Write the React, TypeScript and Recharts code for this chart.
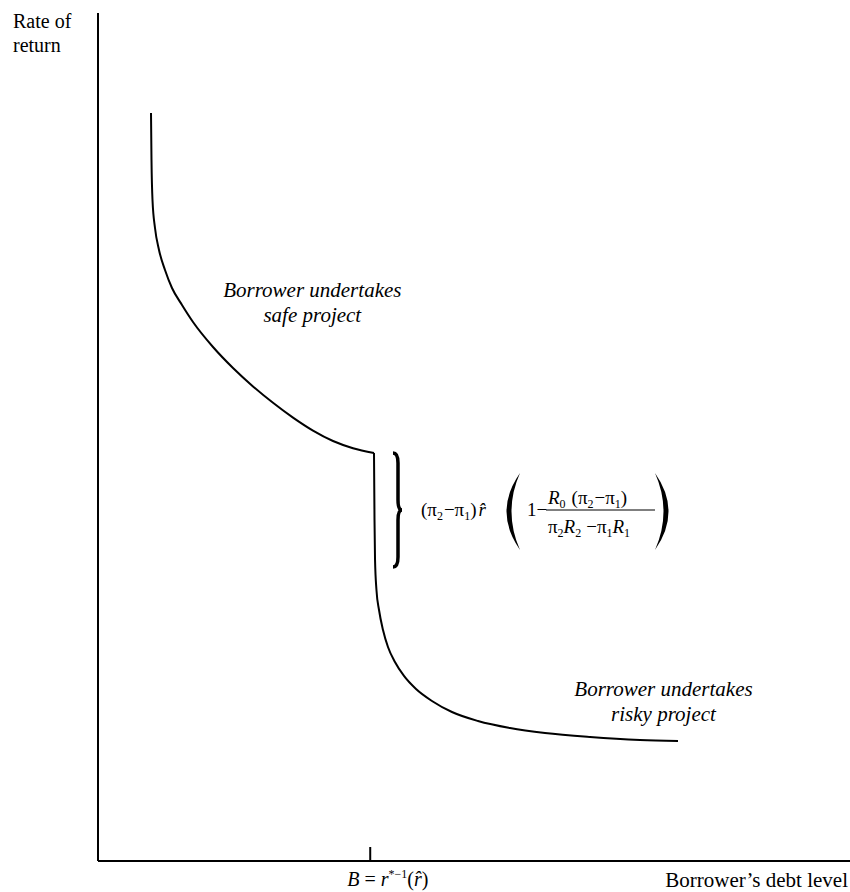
import React from 'react';
import { LineChart, Line, XAxis, YAxis, ReferenceLine, ReferenceDot } from 'recharts';

// debt level / rate of return, both on a 0-100 scale
const safeDebt = [7.048, 7.114, 7.247, 7.58, 8.112, 8.91, 9.84, 11.17, 12.633, 15.293, 17.952, 20.612, 23.271, 25.931, 28.59, 31.25, 33.91, 36.702];
const safeRate = [88.208, 82.665, 77.948, 74.646, 72.052, 69.693, 67.571, 65.566, 63.561, 60.613, 58.137, 55.967, 54.033, 52.288, 50.755, 49.528, 48.679, 48.113];

const riskyDebt = [36.702, 36.77, 36.84, 37.03, 37.37, 37.9, 38.56, 39.49, 40.69, 42.29, 44.41, 47.07, 50.53, 54.79, 59.44, 65.43, 72.07, 77.13];
const riskyRate = [48.113, 40.21, 35.5, 31.96, 29.6, 27.24, 25.24, 23.47, 21.82, 20.28, 18.87, 17.57, 16.51, 15.68, 15.09, 14.62, 14.27, 14.15];

const breakDebt = 36.2;
const tickLen = 1.65;

const safeData = safeDebt.map((x, i) => ({ x, y: safeRate[i] }));
const riskyData = riskyDebt.map((x, i) => ({ x, y: riskyRate[i] }));

const FONT = '"Liberation Serif", "Times New Roman", serif';

const Formula = ({ cx, cy }: { cx?: number; cy?: number }) => {
  const x = cx ?? 0;
  const y = cy ?? 0;
  const bx = x + 19;
  const top = y;
  const bot = y + 114;
  const mid = y + 57;
  const a = 5;
  const c = 10;
  const brace = `M${bx},${top} Q${bx + a},${top} ${bx + a},${top + c} L${bx + a},${mid - c} Q${bx + a},${mid} ${bx + 9},${mid} Q${bx + a},${mid} ${bx + a},${mid + c} L${bx + a},${bot - c} Q${bx + a},${bot} ${bx},${bot}`;
  const lp = x + 146;
  const rp = x + 281;
  const pt = y + 20;
  const pb = y + 97;
  const pm = (pt + pb) / 2;
  const sub = { fontSize: 12 };
  return (
    <g fontFamily={FONT} fill="#000">
      <path d={brace} fill="none" stroke="#000" strokeWidth={3.5} />
      <text x={x + 47} y={y + 63} fontSize={19}>
        (π<tspan dy={4} {...sub}>2</tspan><tspan dy={-4} dx={1}>−π</tspan><tspan dy={4} {...sub}>1</tspan><tspan dy={-4}>)</tspan>
        <tspan dx={2} fontStyle="italic">{'r\u0302'}</tspan>
      </text>
      <path d={`M${lp},${pt} Q${lp - 27},${pm} ${lp},${pb} Q${lp - 17},${pm} ${lp},${pt} Z`} />
      <text x={x + 153} y={y + 63} fontSize={19}>1−</text>
      <line x1={x + 172} x2={x + 281} y1={y + 57} y2={y + 57} stroke="#000" strokeWidth={1.2} />
      <text x={x + 174} y={y + 51} fontSize={19}>
        <tspan fontStyle="italic">R</tspan><tspan dy={4} {...sub}>0</tspan>
        <tspan dy={-4} dx={6}>(π</tspan><tspan dy={4} {...sub}>2</tspan><tspan dy={-4} dx={1}>−π</tspan><tspan dy={4} {...sub}>1</tspan><tspan dy={-4}>)</tspan>
      </text>
      <text x={x + 174} y={y + 80} fontSize={19}>
        π<tspan dy={4} {...sub}>2</tspan><tspan dy={-4} fontStyle="italic">R</tspan><tspan dy={4} {...sub}>2</tspan>
        <tspan dy={-4} dx={5}>−π</tspan><tspan dy={4} {...sub}>1</tspan><tspan dy={-4} fontStyle="italic">R</tspan><tspan dy={4} {...sub}>1</tspan>
      </text>
      <path d={`M${rp},${pt} Q${rp + 27},${pm} ${rp},${pb} Q${rp + 17},${pm} ${rp},${pt} Z`} />
    </g>
  );
};

const TwoLines = ({ cx, cy, lines }: { cx?: number; cy?: number; lines: string[] }) => (
  <text x={cx} y={cy} fontFamily={FONT} fontSize={21} fontStyle="italic" textAnchor="middle" fill="#000">
    {lines.map((t, i) => (
      <tspan key={t} x={cx} dy={i === 0 ? 0 : 25}>{t}</tspan>
    ))}
  </text>
);

const BreakLabel = ({ cx, cy }: { cx?: number; cy?: number }) => (
  <text x={(cx ?? 0) - 23} y={(cy ?? 0) + 25} fontFamily={FONT} fontSize={20} fill="#000">
    <tspan fontStyle="italic">B</tspan> = <tspan fontStyle="italic">r</tspan>
    <tspan dy={-8} fontSize={12}>*−1</tspan>
    <tspan dy={8}>(</tspan><tspan fontStyle="italic">{'r\u0302'}</tspan>)
  </text>
);

const XTitle = ({ cx, cy }: { cx?: number; cy?: number }) => (
  <text x={(cx ?? 0) - 2} y={(cy ?? 0) + 26} fontFamily={FONT} fontSize={21} textAnchor="end" fill="#000">
    Borrower’s debt level
  </text>
);

const YTitle = ({ cx, cy }: { cx?: number; cy?: number }) => {
  const x = (cx ?? 0) - 85;
  return (
    <text x={x} y={(cy ?? 0) + 15} fontFamily={FONT} fontSize={20} fill="#000">
      <tspan x={x}>Rate of</tspan>
      <tspan x={x} dy={24}>return</tspan>
    </text>
  );
};

export default function App() {
  return (
    <div style={{ position: 'absolute', left: 0, top: 0, background: '#fff' }}>
      <LineChart width={850} height={892} margin={{ top: 13, right: 0, bottom: 31, left: 98 }}>
        <XAxis type="number" dataKey="x" domain={[0, 100]} hide />
        <YAxis type="number" dataKey="y" domain={[0, 100]} hide />
        <ReferenceLine x={0} stroke="#000" strokeWidth={2} />
        <ReferenceLine y={0} stroke="#000" strokeWidth={2} />
        <ReferenceLine
          segment={[{ x: breakDebt, y: 0 }, { x: breakDebt, y: tickLen }]}
          stroke="#000"
          strokeWidth={2}
        />
        <Line
          data={safeData}
          dataKey="y"
          type="monotone"
          stroke="#000"
          strokeWidth={2}
          dot={false}
          activeDot={false}
          isAnimationActive={false}
        />
        <Line
          data={riskyData}
          dataKey="y"
          type="monotone"
          stroke="#000"
          strokeWidth={2}
          dot={false}
          activeDot={false}
          isAnimationActive={false}
        />
        <ReferenceDot x={breakDebt} y={0} r={0} shape={(p: any) => <BreakLabel cx={p.cx} cy={p.cy} />} />
        <ReferenceDot x={100} y={0} r={0} shape={(p: any) => <XTitle cx={p.cx} cy={p.cy} />} />
        <ReferenceDot x={0} y={100} r={0} shape={(p: any) => <YTitle cx={p.cx} cy={p.cy} />} />
        <ReferenceDot x={36.702} y={48.113} r={0} shape={(p: any) => <Formula cx={p.cx} cy={p.cy} />} />
        <ReferenceDot
          x={28.5}
          y={66.5}
          r={0}
          shape={(p: any) => <TwoLines cx={p.cx} cy={p.cy} lines={['Borrower undertakes', 'safe project']} />}
        />
        <ReferenceDot
          x={75.2}
          y={19.5}
          r={0}
          shape={(p: any) => <TwoLines cx={p.cx} cy={p.cy} lines={['Borrower undertakes', 'risky project']} />}
        />
      </LineChart>
    </div>
  );
}
